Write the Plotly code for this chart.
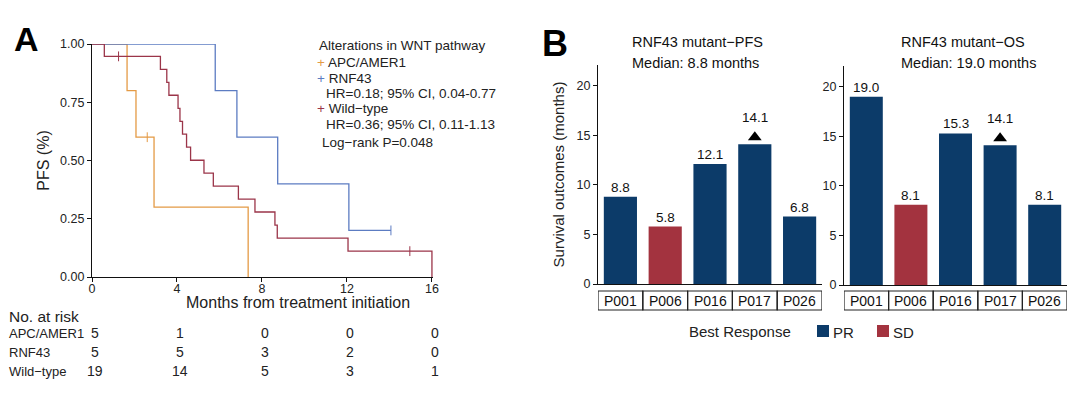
import plotly.graph_objects as go

# ---------------- Panel A data (Kaplan-Meier steps) ----------------
apc_time = [0, 1.65, 2.07, 2.92, 7.35]
apc_surv = [1.0, 0.8, 0.6, 0.3, 0.0]
apc_cens_time = [2.6]
apc_cens_surv = [0.6]

rnf_time = [0, 5.8, 6.82, 8.74, 12.09, 14.07]
rnf_surv = [1.0, 0.8, 0.6, 0.4, 0.2, 0.2]
rnf_cens_time = [14.07]
rnf_cens_surv = [0.2]

wt_time = [0, 0.58, 3.22, 3.52, 3.62, 4.05, 4.14, 4.26, 4.45, 4.64, 5.27, 5.71, 6.89, 7.67, 8.61, 8.72, 12.05, 16.0]
wt_surv = [1.0, 0.947, 0.891, 0.835, 0.780, 0.724, 0.668, 0.613, 0.557, 0.501, 0.446, 0.390, 0.334, 0.279, 0.223, 0.167, 0.111, 0.0]
wt_cens_time = [1.25, 14.96]
wt_cens_surv = [0.947, 0.111]

risk_times = [0, 4, 8, 12, 16]
risk_labels = ["APC/AMER1", "RNF43", "Wild\u2212type"]
risk_apc = [5, 1, 0, 0, 0]
risk_rnf = [5, 5, 3, 2, 0]
risk_wt = [19, 14, 5, 3, 1]

legend_lines = [
    ("APC/AMER1", None),
    ("RNF43", "HR=0.18; 95% CI, 0.04-0.77"),
    ("Wild\u2212type", "HR=0.36; 95% CI, 0.11-1.13"),
]
logrank_text = "Log\u2212rank P=0.048"

# ---------------- Panel B data ----------------
patients = ["P001", "P006", "P016", "P017", "P026"]
pfs_months = [8.8, 5.8, 12.1, 14.1, 6.8]
os_months = [19.0, 8.1, 15.3, 14.1, 8.1]
best_response = ["PR", "SD", "PR", "PR", "PR"]
ongoing = ["P017"]
response_levels = ["PR", "SD"]

# ---------------- styles ----------------
FONT = "Liberation Sans, Arial, sans-serif"
C_APC = "#E49A45"
C_RNF = "#5C7CC2"
C_WT = "#9B3549"
C_PR = "#0C3B69"
C_SD = "#A3333F"
resp_color = {"PR": C_PR, "SD": C_SD}
TXT = "#222"

W, H = 1080, 400
OFF = 8  # page body margin offset compensation
def px(x):
    return (x - OFF) / W
def py(y):
    return 1 - (y - OFF) / H

fig = go.Figure()

# KM curves
for t, s, ct, cs, col, name in [
    (apc_time, apc_surv, apc_cens_time, apc_cens_surv, C_APC, "APC/AMER1"),
    (rnf_time, rnf_surv, rnf_cens_time, rnf_cens_surv, C_RNF, "RNF43"),
    (wt_time, wt_surv, wt_cens_time, wt_cens_surv, C_WT, "Wild\u2212type"),
]:
    fig.add_trace(go.Scatter(x=t, y=s, mode="lines", line=dict(color=col, width=1.3, shape="hv"),
                             name=name, showlegend=False, xaxis="x", yaxis="y", hoverinfo="skip"))
    fig.add_trace(go.Scatter(x=ct, y=cs, mode="markers",
                             marker=dict(symbol="line-ns", size=7, line=dict(color=col, width=1)),
                             showlegend=False, xaxis="x", yaxis="y", hoverinfo="skip"))

# Bars, panels B
for resp in response_levels:
    for xa, ya, vals in [("x2", "y2", pfs_months), ("x3", "y3", os_months)]:
        xs = [p for p, r in zip(patients, best_response) if r == resp]
        ys = [v for v, r in zip(vals, best_response) if r == resp]
        fig.add_trace(go.Bar(x=xs, y=ys, marker=dict(color=resp_color[resp], line=dict(width=0)),
                             width=0.74, name=resp, showlegend=False,
                             xaxis=xa, yaxis=ya, hoverinfo="skip"))
# ongoing triangles
for xa, ya, vals in [("x2", "y2", pfs_months), ("x3", "y3", os_months)]:
    xs = [p for p in patients if p in ongoing]
    ys = [v + 0.7 for p, v in zip(patients, vals) if p in ongoing]
    fig.add_trace(go.Scatter(x=xs, y=ys, mode="markers",
                             marker=dict(symbol="triangle-up", size=12, color="black"),
                             showlegend=False, xaxis=xa, yaxis=ya, hoverinfo="skip"))

annotations = []
shapes = []

# bar value labels + category boxes
for xa, ya, vals in [("x2", "y2", pfs_months), ("x3", "y3", os_months)]:
    for p, v in zip(patients, vals):
        annotations.append(dict(x=p, y=v, xref=xa, yref=ya, text=f"{v:.1f}", showarrow=False,
                                yanchor="bottom", yshift=(17 if p in ongoing else 0),
                                font=dict(size=13.5, color="#111", family=FONT)))
    for i, p in enumerate(patients):
        shapes.append(dict(type="rect", xref=xa, yref="paper", x0=i - 0.5, x1=i + 0.5,
                           y0=py(310), y1=py(291), line=dict(color="#222", width=1.2)))
        annotations.append(dict(x=p, y=py(300.5), xref=xa, yref="paper", text=p, showarrow=False,
                                xanchor="center", yanchor="middle",
                                font=dict(size=14, color="#111", family=FONT)))

# Panel B titles
for xx, yy, txt in [(630, 42, "RNF43 mutant\u2212PFS"), (630, 63, "Median: 8.8 months"),
                    (899, 42, "RNF43 mutant\u2212OS"), (899, 63, "Median: 19.0 months")]:
    annotations.append(dict(x=px(xx), y=py(yy), xref="paper", yref="paper", text=txt, showarrow=False,
                            xanchor="left", yanchor="middle", font=dict(size=14.5, color="#111", family=FONT)))

# Panel labels
annotations += [
    dict(x=px(12), y=py(39), xref="paper", yref="paper", text="<b>A</b>", showarrow=False,
         xanchor="left", yanchor="middle", font=dict(size=34, color="black", family=FONT)),
    dict(x=px(540), y=py(44), xref="paper", yref="paper", text="<b>B</b>", showarrow=False,
         xanchor="left", yanchor="middle", font=dict(size=36, color="black", family=FONT)),
]

# Panel A x-axis title
annotations.append(dict(x=px(298), y=py(302), xref="paper", yref="paper",
                        text="Months from treatment initiation", showarrow=False,
                        xanchor="center", yanchor="middle", font=dict(size=16, color=TXT, family=FONT)))

# Panel A legend block
annotations.append(dict(x=px(317), y=py(45), xref="paper", yref="paper", text="Alterations in WNT pathway",
                        showarrow=False, xanchor="left", yanchor="middle",
                        font=dict(size=13.5, color=TXT, family=FONT)))
row_y = 63
for (lab, hr), col in zip(legend_lines, [C_APC, C_RNF, C_WT]):
    annotations.append(dict(x=px(315), y=py(row_y), xref="paper", yref="paper",
                            text=f"<span style='color:{col}'>+</span> {lab}", showarrow=False,
                            xanchor="left", yanchor="middle", font=dict(size=13.5, color=TXT, family=FONT)))
    row_y += 15.5
    if hr:
        annotations.append(dict(x=px(324), y=py(row_y), xref="paper", yref="paper", text=hr,
                                showarrow=False, xanchor="left", yanchor="middle",
                                font=dict(size=13.5, color=TXT, family=FONT)))
        row_y += 15
annotations.append(dict(x=px(320), y=py(142), xref="paper", yref="paper", text=logrank_text,
                        showarrow=False, xanchor="left", yanchor="middle",
                        font=dict(size=13.5, color=TXT, family=FONT)))

# Risk table
annotations.append(dict(x=px(7), y=py(316), xref="paper", yref="paper", text="No. at risk",
                        showarrow=False, xanchor="left", yanchor="middle",
                        font=dict(size=15.5, color=TXT, family=FONT)))
for lab, counts, yy in zip(risk_labels, [risk_apc, risk_rnf, risk_wt], [333, 352, 371]):
    annotations.append(dict(x=px(7), y=py(yy), xref="paper", yref="paper", text=lab,
                            showarrow=False, xanchor="left", yanchor="middle",
                            font=dict(size=13, color=TXT, family=FONT)))
    for t, c in zip(risk_times, counts):
        annotations.append(dict(x=t, y=py(yy), xref="x", yref="paper", text=str(c), showarrow=False,
                                xanchor="center", xshift=3, yanchor="middle",
                                font=dict(size=14, color=TXT, family=FONT)))

# Best Response legend (drawn manually)
annotations.append(dict(x=px(687), y=py(331), xref="paper", yref="paper", text="Best Response",
                        showarrow=False, xanchor="left", yanchor="middle",
                        font=dict(size=15, color=TXT, family=FONT)))
for resp, sx in zip(response_levels, [817, 877]):
    shapes.append(dict(type="rect", xref="paper", yref="paper", x0=px(sx), x1=px(sx + 12),
                       y0=py(337), y1=py(325), fillcolor=resp_color[resp], line=dict(width=0)))
    annotations.append(dict(x=px(sx + 14), y=py(332), xref="paper", yref="paper", text=resp,
                            showarrow=False, xanchor="left", yanchor="middle",
                            font=dict(size=15, color=TXT, family=FONT)))

axis_common = dict(showline=True, linecolor="#111", linewidth=1.2, showgrid=False, zeroline=False,
                   ticks="outside", ticklen=4, tickwidth=1.1, tickcolor="#111", automargin=False,
                   tickfont=dict(size=12.5, color=TXT, family=FONT))
cat_common = dict(type="category", categoryorder="array", categoryarray=patients,
                  range=[-0.5, 4.5], showticklabels=False, showline=True, linecolor="#111", linewidth=1.2,
                  showgrid=False, zeroline=False, ticks="", automargin=False)

fig.update_layout(
    width=W, height=H, margin=dict(l=0, r=0, t=0, b=0, autoexpand=False),
    paper_bgcolor="white", plot_bgcolor="white",
    font=dict(family=FONT, color=TXT),
    barmode="overlay",
    showlegend=False,
    xaxis=dict(domain=[px(92), px(433)], range=[0, 16.05], tickvals=risk_times,
               ticklabelstandoff=-4, anchor="y", **axis_common),
    yaxis=dict(domain=[py(277), py(44)], range=[0, 1.0], tickvals=[0, 0.25, 0.5, 0.75, 1.0],
               tickformat=".2f",
               title=dict(text="PFS (%)", standoff=6, font=dict(size=16, color=TXT, family=FONT)),
               anchor="x", **axis_common),
    xaxis2=dict(domain=[px(598), px(822)], anchor="y2", **cat_common),
    yaxis2=dict(domain=[py(284), py(65)], range=[0, 22.1], tickvals=[0, 5, 10, 15, 20],
                title=dict(text="Survival outcomes (months)", standoff=8,
                           font=dict(size=15, color=TXT, family=FONT)),
                anchor="x2", **axis_common),
    xaxis3=dict(domain=[px(844), px(1067)], anchor="y3", **cat_common),
    yaxis3=dict(domain=[py(285), py(66)], range=[0, 22.1], tickvals=[0, 5, 10, 15, 20],
                anchor="x3", **axis_common),
    annotations=annotations,
    shapes=shapes,
)

fig.write_html("out.html")
